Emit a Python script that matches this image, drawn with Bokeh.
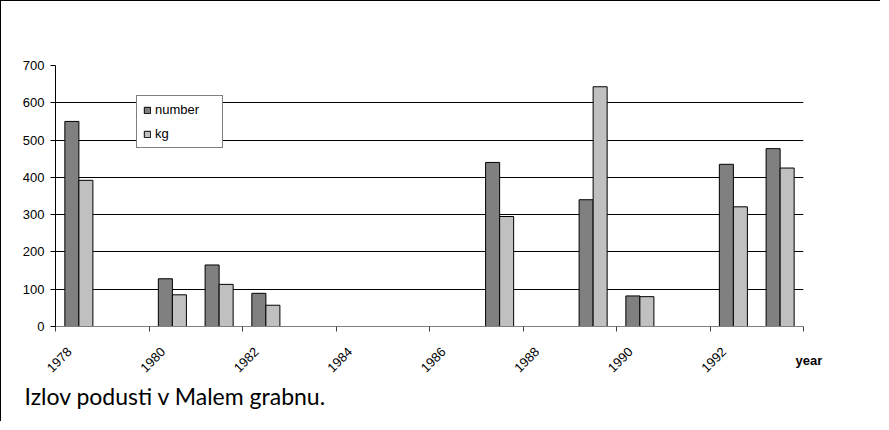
import numpy as np
from bokeh.plotting import figure
from bokeh.models import Range1d, FixedTicker, LinearAxis, Title
from bokeh.embed import file_html
from bokeh.resources import INLINE

# ---- data ----
years = [1978, 1980, 1981, 1982, 1987, 1989, 1990, 1992, 1993]
number = [550, 128, 165, 89, 440, 340, 82, 435, 477]
kg = [392, 85, 113, 57, 295, 643, 80, 321, 425]
tick_years = [1978, 1980, 1982, 1984, 1986, 1988, 1990, 1992, 1994]
tick_labels = ["1978", "1980", "1982", "1984", "1986", "1988", "1990", "1992"]
y_ticks = [0, 100, 200, 300, 400, 500, 600, 700]
x_title = "year"
caption = "Izlov podusti v Malem grabnu."

LABEL_SHIFT = 0.3    # rotated labels are centred on their tick (layout offset)
NBSP = "\u00a0"

p = figure(width=880, height=421, output_backend="svg", toolbar_location=None,
           x_range=Range1d(1978, 1994), y_range=Range1d(0, 700),
           min_border_left=54, min_border_right=78, min_border_top=64, min_border_bottom=96)
p.styles = {"border-left": "1px solid #000", "border-top": "1px solid #000"}
p.outline_line_color = None
p.background_fill_color = "white"
p.border_fill_color = "white"

yrs = np.array(years, dtype=float)
p.vbar(x=yrs + 0.35, top=number, bottom=0, width=0.3, fill_color="#808080",
       line_color="black", line_width=1, legend_label="number")
p.vbar(x=yrs + 0.65, top=kg, bottom=0, width=0.3, fill_color="#c0c0c0",
       line_color="black", line_width=1, legend_label="kg")

# main x axis: line and tick marks
ax = p.xaxis[0]
ax.ticker = FixedTicker(ticks=tick_years)
ax.major_label_overrides = {t: "" for t in tick_years}
ax.major_label_standoff = 0
ax.major_label_text_font_size = "1px"
ax.axis_line_color = "#808080"
ax.major_tick_line_color = "#404040"
ax.major_tick_in = 0
ax.major_tick_out = 5
ax.minor_tick_line_color = None

# tick labels, rotated and centred on their ticks
lab_pos = [t + LABEL_SHIFT for t in tick_years[:len(tick_labels)]]
lab_axis = LinearAxis(ticker=FixedTicker(ticks=lab_pos),
                      major_label_overrides={v: l for v, l in zip(lab_pos, tick_labels)},
                      major_label_orientation=np.pi / 4,
                      major_label_text_font="Liberation Sans",
                      major_label_text_font_size="13px",
                      major_label_text_color="black",
                      major_label_standoff=18,
                      axis_line_color=None, major_tick_line_color=None,
                      major_tick_in=0, major_tick_out=0, minor_tick_line_color=None)
p.add_layout(lab_axis, "below")

# axis title "year", at the right end of the axis
year_axis = LinearAxis(ticker=FixedTicker(ticks=[tick_years[-1]]),
                       major_label_overrides={tick_years[-1]: NBSP * 3 + x_title},
                       major_label_text_font="Liberation Sans",
                       major_label_text_font_size="13px",
                       major_label_text_font_style="bold",
                       major_label_text_color="black",
                       major_label_standoff=-27,
                       axis_line_color=None, major_tick_line_color=None,
                       major_tick_in=0, major_tick_out=0, minor_tick_line_color=None)
p.add_layout(year_axis, "below")

# caption
p.add_layout(Title(text=caption, align="left", offset=-31, standoff=0,
                   text_font="Lato", text_font_size="23px",
                   text_font_style="normal", text_color="black"), "below")

p.yaxis.ticker = FixedTicker(ticks=y_ticks)
p.yaxis.major_label_text_font = "Liberation Sans"
p.yaxis.major_label_text_font_size = "13px"
p.yaxis.major_label_text_color = "black"
p.yaxis.major_label_standoff = 6
p.yaxis.axis_line_color = "black"
p.yaxis.major_tick_line_color = "black"
p.yaxis.major_tick_in = 0
p.yaxis.major_tick_out = 5
p.yaxis.minor_tick_line_color = None

p.xgrid.grid_line_color = None
p.ygrid.ticker = FixedTicker(ticks=y_ticks)
p.ygrid.grid_line_color = "black"
p.ygrid.grid_line_width = 1

# legend
lg = p.legend[0]
lg.location = (81, 178)
lg.border_line_color = "black"
lg.border_line_width = 1
lg.background_fill_color = "white"
lg.background_fill_alpha = 1
lg.label_text_font = "Liberation Sans"
lg.label_text_font_size = "13px"
lg.label_text_color = "black"
lg.glyph_width = 8
lg.glyph_height = 8
lg.label_height = 12
lg.label_width = 61
lg.label_standoff = 4
lg.padding = 6
lg.spacing = 9
lg.margin = 0

open("out.html", "w").write(file_html(p, INLINE))
